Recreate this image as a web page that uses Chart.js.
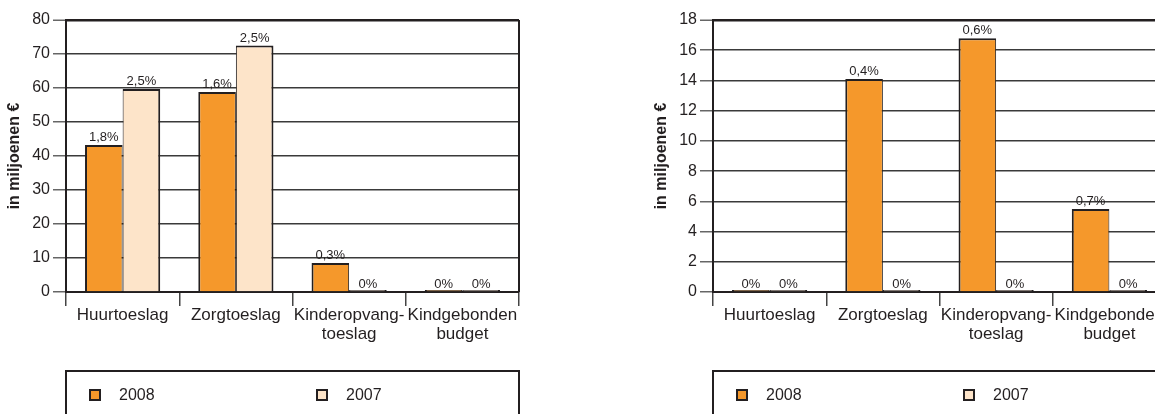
<!DOCTYPE html>
<html lang="nl">
  <head>
    <meta charset="UTF-8" />
    <title>Toeslagen</title>
    <script src="https://cdn.jsdelivr.net/npm/chart.js"></script>
    <style>
      body {
        margin: 0;
        background: #fff;
        overflow: hidden;
        width: 1155px;
        height: 414px;
        position: relative;
      }
      canvas {
        position: absolute;
        top: 0;
      }
      #left {
        left: 0;
      }
      #right {
        left: 647px;
      }
    </style>
  </head>
  <body>
    <canvas id="left" width="540" height="414"></canvas>
    <canvas id="right" width="540" height="414"></canvas>
    <script>
      const categories = [
        ["Huurtoeslag"],
        ["Zorgtoeslag"],
        ["Kinderopvang-", "toeslag"],
        ["Kindgebonden", "budget"],
      ];
      const seriesNames = ["2008", "2007"];

      // linker grafiek
      const left2008 = [43.2, 58.8, 8.5, 0];
      const left2007 = [59.7, 72.5, 0, 0];
      const leftPct2008 = ["1,8%", "1,6%", "0,3%", "0%"];
      const leftPct2007 = ["2,5%", "2,5%", "0%", "0%"];
      const leftMax = 80;
      const leftStep = 10;

      // rechter grafiek
      const right2008 = [0, 14.1, 16.8, 5.5];
      const right2007 = [0, 0, 0, 0];
      const rightPct2008 = ["0%", "0,4%", "0,6%", "0,7%"];
      const rightPct2007 = ["0%", "0%", "0%", "0%"];
      const rightMax = 18;
      const rightStep = 2;

      const ink = "#231f20";
      const orange = "#f5982b";
      const peach = "#fde4c9";
      const font = "'Liberation Sans', Arial, sans-serif";

      const valueLabels = {
        id: "valueLabels",
        afterDatasetsDraw(chart) {
          const ctx = chart.ctx;
          const yScale = chart.scales.y;
          ctx.save();
          ctx.fillStyle = ink;
          ctx.font = "13px " + font;
          ctx.textAlign = "center";
          ctx.textBaseline = "alphabetic";
          chart.data.datasets.forEach((ds, i) => {
            chart.getDatasetMeta(i).data.forEach((bar, j) => {
              const y = yScale.getPixelForValue(ds.data[j]) - 4;
              ctx.fillText(ds.pct[j], bar.x, y);
            });
          });
          ctx.restore();
        },
      };

      const frameAndLegend = {
        id: "frameAndLegend",
        afterDraw(chart) {
          const ctx = chart.ctx;
          const { left, right, top, bottom } = chart.chartArea;
          ctx.save();
          ctx.strokeStyle = ink;
          ctx.lineWidth = 2;
          ctx.beginPath();
          ctx.moveTo(right, top);
          ctx.lineTo(right, bottom);
          ctx.stroke();

          // legenda-kader
          const boxTop = bottom + 79;
          ctx.strokeRect(left, boxTop, right - left, 100);
          ctx.font = "16px " + font;
          ctx.textBaseline = "middle";
          ctx.textAlign = "left";
          chart.data.datasets.forEach((ds, i) => {
            const x = left + 23 + i * 227;
            const y = boxTop + 18;
            ctx.fillStyle = ds.backgroundColor;
            ctx.fillRect(x + 1, y + 1, 10, 10);
            ctx.strokeRect(x + 1, y + 1, 10, 10);
            ctx.fillStyle = ink;
            ctx.fillText(ds.label, x + 30, y + 6.5);
          });
          ctx.restore();
        },
      };

      function makeChart(id, v2008, v2007, p2008, p2007, yMax, yStep) {
        return new Chart(document.getElementById(id), {
          type: "bar",
          data: {
            labels: categories,
            datasets: [
              {
                label: seriesNames[0],
                data: v2008,
                pct: p2008,
                backgroundColor: orange,
                borderColor: ink,
                borderWidth: { top: 2, left: 2, right: 1, bottom: 0 },
              },
              {
                label: seriesNames[1],
                data: v2007,
                pct: p2007,
                backgroundColor: peach,
                borderColor: ink,
                borderWidth: { top: 2, left: 1, right: 2, bottom: 0 },
              },
            ],
          },
          options: {
            responsive: false,
            animation: false,
            events: [],
            categoryPercentage: 0.664,
            barPercentage: 1,
            minBarLength: 2,
            layout: {
              autoPadding: false,
              padding: { top: 20, left: 0, right: 21, bottom: 0 },
            },
            plugins: {
              legend: { display: false },
              tooltip: { enabled: false },
            },
            scales: {
              x: {
                ticks: {
                  color: ink,
                  font: { family: font, size: 17, lineHeight: 1.1 },
                  padding: 0,
                  autoSkip: false,
                  maxRotation: 0,
                },
                grid: {
                  offset: true,
                  drawOnChartArea: false,
                  tickLength: 14,
                  color: "#444",
                  lineWidth: 1.5,
                },
                border: { color: ink, width: 2 },
                afterFit: (s) => {
                  s.height = 122;
                },
              },
              y: {
                min: 0,
                max: yMax,
                ticks: {
                  stepSize: yStep,
                  color: ink,
                  font: { family: font, size: 16 },
                  padding: 3,
                },
                grid: {
                  color: (c) => (c.tick && c.tick.value === yMax ? ink : "#3a3a3a"),
                  lineWidth: (c) => (c.tick && c.tick.value === yMax ? 2.5 : 1.5),
                  tickLength: 13,
                  tickColor: "#666",
                  tickWidth: 1.5,
                },
                border: { color: ink, width: 2 },
                title: {
                  display: true,
                  text: "in miljoenen €",
                  color: ink,
                  font: { family: font, size: 16, weight: "bold" },
                  padding: { top: 5, bottom: 0 },
                },
                afterFit: (s) => {
                  s.width = 66;
                },
              },
            },
          },
          plugins: [valueLabels, frameAndLegend],
        });
      }

      makeChart("left", left2008, left2007, leftPct2008, leftPct2007, leftMax, leftStep);
      makeChart("right", right2008, right2007, rightPct2008, rightPct2007, rightMax, rightStep);
    </script>
  </body>
</html>
